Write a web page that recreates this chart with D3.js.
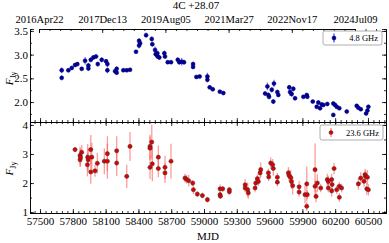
<!DOCTYPE html>
<html><head><meta charset="utf-8">
<script src="https://cdn.jsdelivr.net/npm/d3@7"></script>
<style>body{margin:0;background:#fff}svg{display:block}text{font-family:"Liberation Serif","DejaVu Serif",serif}</style>
</head><body><svg id="c" width="389" height="243"></svg>
<script>
const title = "4C +28.07";
const xTicks = [57500,57800,58100,58400,58700,59000,59300,59600,59900,60200,60500];
const dateTicks = [57500,58100,58700,59300,59900,60500];
const yTicksTop = [2.0,2.5,3.0,3.5];
const yTicksBot = [1,2,3,4];
const label48 = "4.8 GHz", label236 = "23.6 GHz";

const mjd48 = [57698,57698,57759,57790,57820,57841,57881,57912,57942,57942,57964,57988,58012,58028,58064,58104,58116,58116,58186,58201,58201,58262,58293,58323,58378,58406,58406,58415,58470,58522,58527,58552,58558,58573,58576,58591,58637,58643,58668,58698,58760,58774,58796,58817,58900,58900,58930,58960,59031,59031,59052,59080,59145,59177,59559,59580,59589,59595,59620,59634,59640,59671,59680,59780,59787,59802,59817,59833,59909,59940,59945,59995,60031,60046,60062,60077,60092,60128,60183,60183,60199,60214,60238,60306,60397,60412,60434,60483,60495,60504];
const flux48 = [2.67,2.51,2.67,2.72,2.78,2.80,2.70,2.87,2.77,2.71,2.89,2.94,2.96,2.80,2.89,2.86,2.80,2.67,2.65,2.62,2.70,2.67,2.67,2.68,3.06,3.29,3.19,3.24,3.41,3.33,3.22,3.10,3.01,3.03,2.96,2.94,3.03,2.96,2.84,2.84,2.89,2.84,2.85,2.84,2.80,2.74,2.53,2.54,2.54,2.47,2.31,2.27,2.22,2.19,2.18,2.33,2.15,2.11,2.26,2.01,2.39,2.21,2.15,2.31,2.21,2.17,2.28,2.08,2.11,2.15,2.11,2.01,1.90,1.99,1.87,1.95,1.94,1.96,1.73,1.97,1.94,1.90,1.87,1.80,1.92,1.88,1.85,1.76,1.82,1.90];
const err48 = [.06,.05,.04,.04,.04,.04,.04,.08,.06,.05,.05,.05,.04,.05,.05,.05,.06,.06,.04,.04,.05,.03,.03,.03,.03,.06,.06,.05,.05,.05,.05,.07,.06,.05,.05,.05,.05,.04,.04,.04,.05,.05,.08,.05,.05,.04,.03,.03,.08,.05,.03,.03,.03,.03,.04,.08,.05,.05,.06,.05,.08,.05,.04,.05,.08,.06,.05,.04,.03,.03,.03,.03,.04,.05,.04,.04,.03,.03,.04,.04,.04,.04,.03,.03,.04,.03,.03,.03,.03,.04];

const mjd236 = [57820,57866,57866,57870,57881,57933,57936,57940,57964,57964,57973,58003,58024,58088,58116,58116,58201,58201,58293,58323,58506,58506,58522,58506,58527,58582,58582,58643,58643,58698,58826,58840,58860,58897,58903,58939,58985,59031,59147,59147,59150,59171,59232,59232,59376,59376,59400,59405,59467,59473,59488,59497,59513,59519,59589,59592,59610,59628,59634,59671,59671,59772,59778,59793,59800,59811,59870,59870,59924,59940,59945,59940,60016,60016,60025,60037,60068,60128,60137,60137,60168,60168,60172,60190,60214,60238,60238,60259,60412,60434,60464,60473,60478,60489,60495,60504];
const flux236 = [3.15,2.95,2.80,2.88,3.06,2.63,2.89,2.80,3.15,2.38,2.89,2.42,2.68,2.75,3.01,2.75,3.11,2.69,2.23,3.26,3.26,3.20,3.41,2.54,2.66,2.89,2.50,2.54,2.35,2.75,2.17,2.13,2.08,2.00,1.77,1.62,1.57,1.43,1.80,1.60,1.55,1.80,1.77,1.70,1.94,1.83,1.77,1.66,1.83,2.00,2.15,2.05,2.35,2.46,2.35,2.21,2.69,2.63,2.50,2.20,2.03,2.35,2.26,2.19,2.05,1.91,1.87,1.69,1.60,1.97,1.60,1.20,2.46,1.89,1.54,2.00,1.83,2.12,2.05,1.83,2.12,1.73,1.95,2.50,1.77,1.89,1.51,1.83,1.97,2.17,2.06,2.29,2.23,1.80,2.20,1.77];
const err236 = [.08,.3,.25,.3,.25,.4,.45,.4,.5,.4,.5,.2,.35,.45,.6,.6,.5,.45,.4,.5,.4,.4,.6,.4,.6,.4,.3,.4,.35,.6,.15,.15,.2,.1,.15,.1,.1,.1,.15,.1,.1,.1,.1,.1,.2,.15,.25,.2,.15,.15,.15,.15,.2,.25,.15,.15,.2,.2,.25,.15,.15,.2,.2,.25,.25,.3,.2,.15,.3,.6,.15,.15,.9,.2,.2,.3,.15,.2,.2,.15,.2,.2,.25,.2,.15,.15,.15,.15,.2,.2,.2,.2,.2,.2,.25,.2];

const svg = d3.select("#c");
const L = 30, R = 386, T = 29, M = 122, B = 213;
const x = d3.scaleLinear().domain([57408, 60665]).range([L, R]);
// upper date axis has its own scale
const xTop = d3.scaleLinear().domain([57500, 60500]).range([39, 355]);
const yT = d3.scaleLinear().domain([1.58, 3.54]).range([M, T]);
const yB = d3.scaleLinear().domain([0.97, 4.1]).range([B, M]);

const mjdToDate = m => new Date(Date.UTC(1858,10,17) + m*86400000);
const fmtDate = d3.utcFormat("%Y%b%d");

function styleAxis(g, fs){
  g.select(".domain").attr("stroke","#000").attr("stroke-width",0.8);
  g.selectAll(".tick line").attr("stroke","#000").attr("stroke-width",0.8);
  g.selectAll("text").attr("fill","#000").style("font-size",(fs||11)+"px");
}
function range(a,b,s){const r=[];for(let v=a;v<=b+1e-9;v+=s)r.push(+v.toFixed(4));return r;}

function panel(y, top, bot, yTicks, yMinorStep, topLabels){
  const minorY = range(Math.ceil(y.domain()[0]/yMinorStep)*yMinorStep, y.domain()[1], yMinorStep);
  svg.append("g").attr("transform",`translate(${L},0)`)
    .call(d3.axisLeft(y).tickValues(minorY).tickSize(-2).tickFormat("")).call(styleAxis);
  svg.append("g").attr("transform",`translate(${L},0)`)
    .call(d3.axisLeft(y).tickValues(yTicks).tickSize(-4).tickPadding(2).tickFormat(d=>yTicks===yTicksTop?d3.format(".1f")(d):d)).call(styleAxis);
  svg.append("g").attr("transform",`translate(${R},0)`)
    .call(d3.axisRight(y).tickValues(minorY).tickSize(-2).tickFormat("")).call(styleAxis);
  svg.append("g").attr("transform",`translate(${R},0)`)
    .call(d3.axisRight(y).tickValues(yTicks).tickSize(-4).tickFormat("")).call(styleAxis);
  svg.append("g").attr("transform",`translate(0,${bot})`)
    .call(d3.axisBottom(x).tickValues(range(57450,60650,50)).tickSize(-2).tickFormat("")).call(styleAxis);
  svg.append("g").attr("transform",`translate(0,${bot})`)
    .call(d3.axisBottom(x).tickValues(xTicks).tickSize(-4).tickPadding(4).tickFormat(topLabels? "" : d=>d)).call(styleAxis);
  if (topLabels){
    svg.append("g").attr("transform",`translate(0,${top})`)
      .call(d3.axisTop(xTop).tickValues(range(57500,60700,100).filter(v=>xTop(v)<R)).tickSize(-2).tickFormat("")).call(styleAxis);
    svg.append("g").attr("transform",`translate(0,${top})`)
      .call(d3.axisTop(xTop).tickValues(dateTicks).tickSize(-4).tickPadding(6)
        .tickFormat(d=>fmtDate(mjdToDate(d)))).call(g=>styleAxis(g,10.6));
  } else {
    svg.append("g").attr("transform",`translate(0,${top})`)
      .call(d3.axisTop(x).tickValues(range(57450,60650,50)).tickSize(-2).tickFormat("")).call(styleAxis);
    svg.append("g").attr("transform",`translate(0,${top})`)
      .call(d3.axisTop(x).tickValues(xTicks).tickSize(-4).tickFormat("")).call(styleAxis);
  }
}

panel(yT, T, M, yTicksTop, 0.25, true);
panel(yB, M, B, yTicksBot, 0.5, false);

svg.append("clipPath").attr("id","cpT").append("rect").attr("x",L).attr("y",T).attr("width",R-L).attr("height",M-T);
svg.append("clipPath").attr("id","cpB").append("rect").attr("x",L).attr("y",M).attr("width",R-L).attr("height",B-M);

const d48 = mjd48.map((m,i)=>({m, f:flux48[i], e:err48[i]}));
const d236 = mjd236.map((m,i)=>({m, f:flux236[i], e:err236[i]}));

const gT = svg.append("g").attr("clip-path","url(#cpT)");
gT.selectAll("line.e").data(d48).join("line")
  .attr("x1",d=>x(d.m)).attr("x2",d=>x(d.m)).attr("y1",d=>yT(d.f-d.e)).attr("y2",d=>yT(d.f+d.e))
  .attr("stroke","#3a3aff").attr("stroke-opacity",0.75).attr("stroke-width",1.2);
gT.selectAll("circle").data(d48).join("circle")
  .attr("cx",d=>x(d.m)).attr("cy",d=>yT(d.f)).attr("r",2)
  .attr("fill","#0000a0").attr("stroke","#000060").attr("stroke-width",0.5);

const gB = svg.append("g").attr("clip-path","url(#cpB)");
gB.selectAll("line.e").data(d236).join("line")
  .attr("x1",d=>x(d.m)).attr("x2",d=>x(d.m)).attr("y1",d=>yB(d.f-d.e)).attr("y2",d=>yB(d.f+d.e))
  .attr("stroke","#ff5a5a").attr("stroke-opacity",0.6).attr("stroke-width",1.3);
gB.selectAll("circle").data(d236).join("circle")
  .attr("cx",d=>x(d.m)).attr("cy",d=>yB(d.f)).attr("r",2.1)
  .attr("fill","#e00000").attr("stroke","#333").attr("stroke-width",0.5);

svg.append("text").attr("x",196).attr("y",9).attr("text-anchor","middle").style("font-size","11px").text(title);
svg.append("text").attr("x",208).attr("y",240).attr("text-anchor","middle").style("font-size","11px").text("MJD");
function ylab(cy){
  const t = svg.append("text").attr("transform",`translate(13,${cy}) rotate(-90)`).attr("text-anchor","middle").style("font-size","11px");
  t.append("tspan").style("font-style","italic").text("F");
  t.append("tspan").attr("dy",3).style("font-size","8px").text("Jy");
}
ylab(yT(2.5)); ylab(yB(2.5));

function legend(x0,y0,w,h,color,stroke,ecolor,label){
  const g = svg.append("g");
  g.append("rect").attr("x",x0).attr("y",y0).attr("width",w).attr("height",h).attr("rx",2)
    .attr("fill","#fff").attr("stroke","#999").attr("stroke-width",0.8);
  const mx = x0+11, my = y0+h/2;
  g.append("line").attr("x1",mx).attr("x2",mx).attr("y1",my-4.5).attr("y2",my+4.5).attr("stroke",ecolor).attr("stroke-width",1.2);
  g.append("circle").attr("cx",mx).attr("cy",my).attr("r",2).attr("fill",color).attr("stroke",stroke).attr("stroke-width",0.5);
  g.append("text").attr("x",x0+w-4).attr("y",my+3).attr("text-anchor","end").style("font-size","8.5px").text(label);
}
legend(323,31,59,14,"#0000a0","#000060","#3a3aff",label48);
legend(320,125,63,15,"#e00000","#333","#ff7777",label236);
</script></body></html>
